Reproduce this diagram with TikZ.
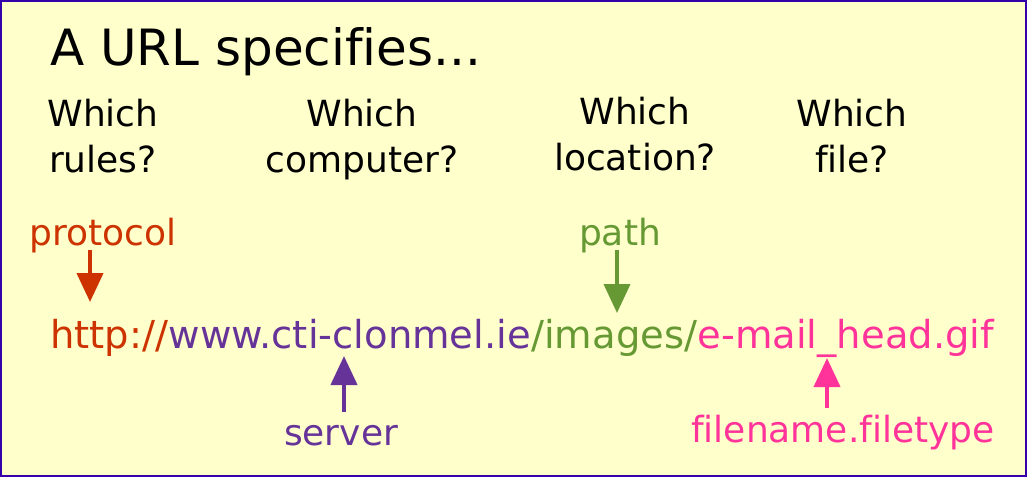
\documentclass[tikz,border=0pt]{standalone}
\usepackage{fontspec}
\setmainfont{DejaVu Sans}[Ligatures=NoCommon]
\usetikzlibrary{arrows.meta}
\definecolor{fond}{HTML}{FFFFCC}
\definecolor{cadre}{HTML}{3300AA}
\definecolor{protocole}{HTML}{CC3300}
\definecolor{serveur}{HTML}{663399}
\definecolor{chemin}{HTML}{669933}
\definecolor{fichier}{HTML}{FF3399}
\begin{document}
\begin{tikzpicture}[x=1pt,y=-1pt]
  \tikzstyle{question}=[align=center, font=\fontsize{36}{46}\selectfont,
  inner sep=0pt, anchor=base]
  \tikzstyle{etiquette}=[font=\fontsize{36}{43}\selectfont, inner sep=0pt,
  anchor=base]
  \tikzstyle{morceau}=[font=\fontsize{38.5}{46}\selectfont, inner sep=0pt,
  anchor=base west]
  \tikzstyle{fleche}=[-{Triangle[length=29pt,width=26pt]}, line width=4pt]
  \draw[fill=fond, draw=cadre, line width=2pt] (1,1) rectangle (1026,476);
  \useasboundingbox (0,0) rectangle (1027,477);
  \node[font=\fontsize{50}{60}\selectfont, inner sep=0pt, anchor=base west]
  (titre) at (50,65) {A URL specifies...};
  \foreach \n/\x/\y/\t in {regles/103/172/rules?,ordi/362/172/computer?,
    lieu/635/170/location?,fich/852/172/file?} {
    \node[question] (\n) at (\x,\y) {Which\\\t};
  }
  % the URL, piece by piece
  \node[morceau, text=protocole] (http) at (50,348) {http://};
  \node[morceau, text=serveur] (www) at (http.base east) {www.cti-clonmel.ie};
  \node[morceau, text=chemin] (images) at (www.base east) {/images/};
  \node[morceau, text=fichier] (gif) at (images.base east) {e-mail\_head.gif};
  % labels
  \node[etiquette, text=protocole] (protocol) at (103,245) {protocol};
  \node[etiquette, text=chemin] (path) at (620,245) {path};
  \node[etiquette, text=serveur] (server) at (341,445) {server};
  \node[etiquette, text=fichier] (filename) at (843,442) {filename.filetype};
  \foreach \n/\x/\ya/\yb/\c in {prot/90/250/302/protocole,chem/617/250/313/chemin,
    serv/344/412/356/serveur,fich/827/408/358/fichier} {
    \coordinate (\n1) at (\x,\ya);
    \coordinate (\n2) at (\x,\yb);
    \draw[fleche, \c] (\n1) -- (\n2);
  }
\end{tikzpicture}
\end{document}
